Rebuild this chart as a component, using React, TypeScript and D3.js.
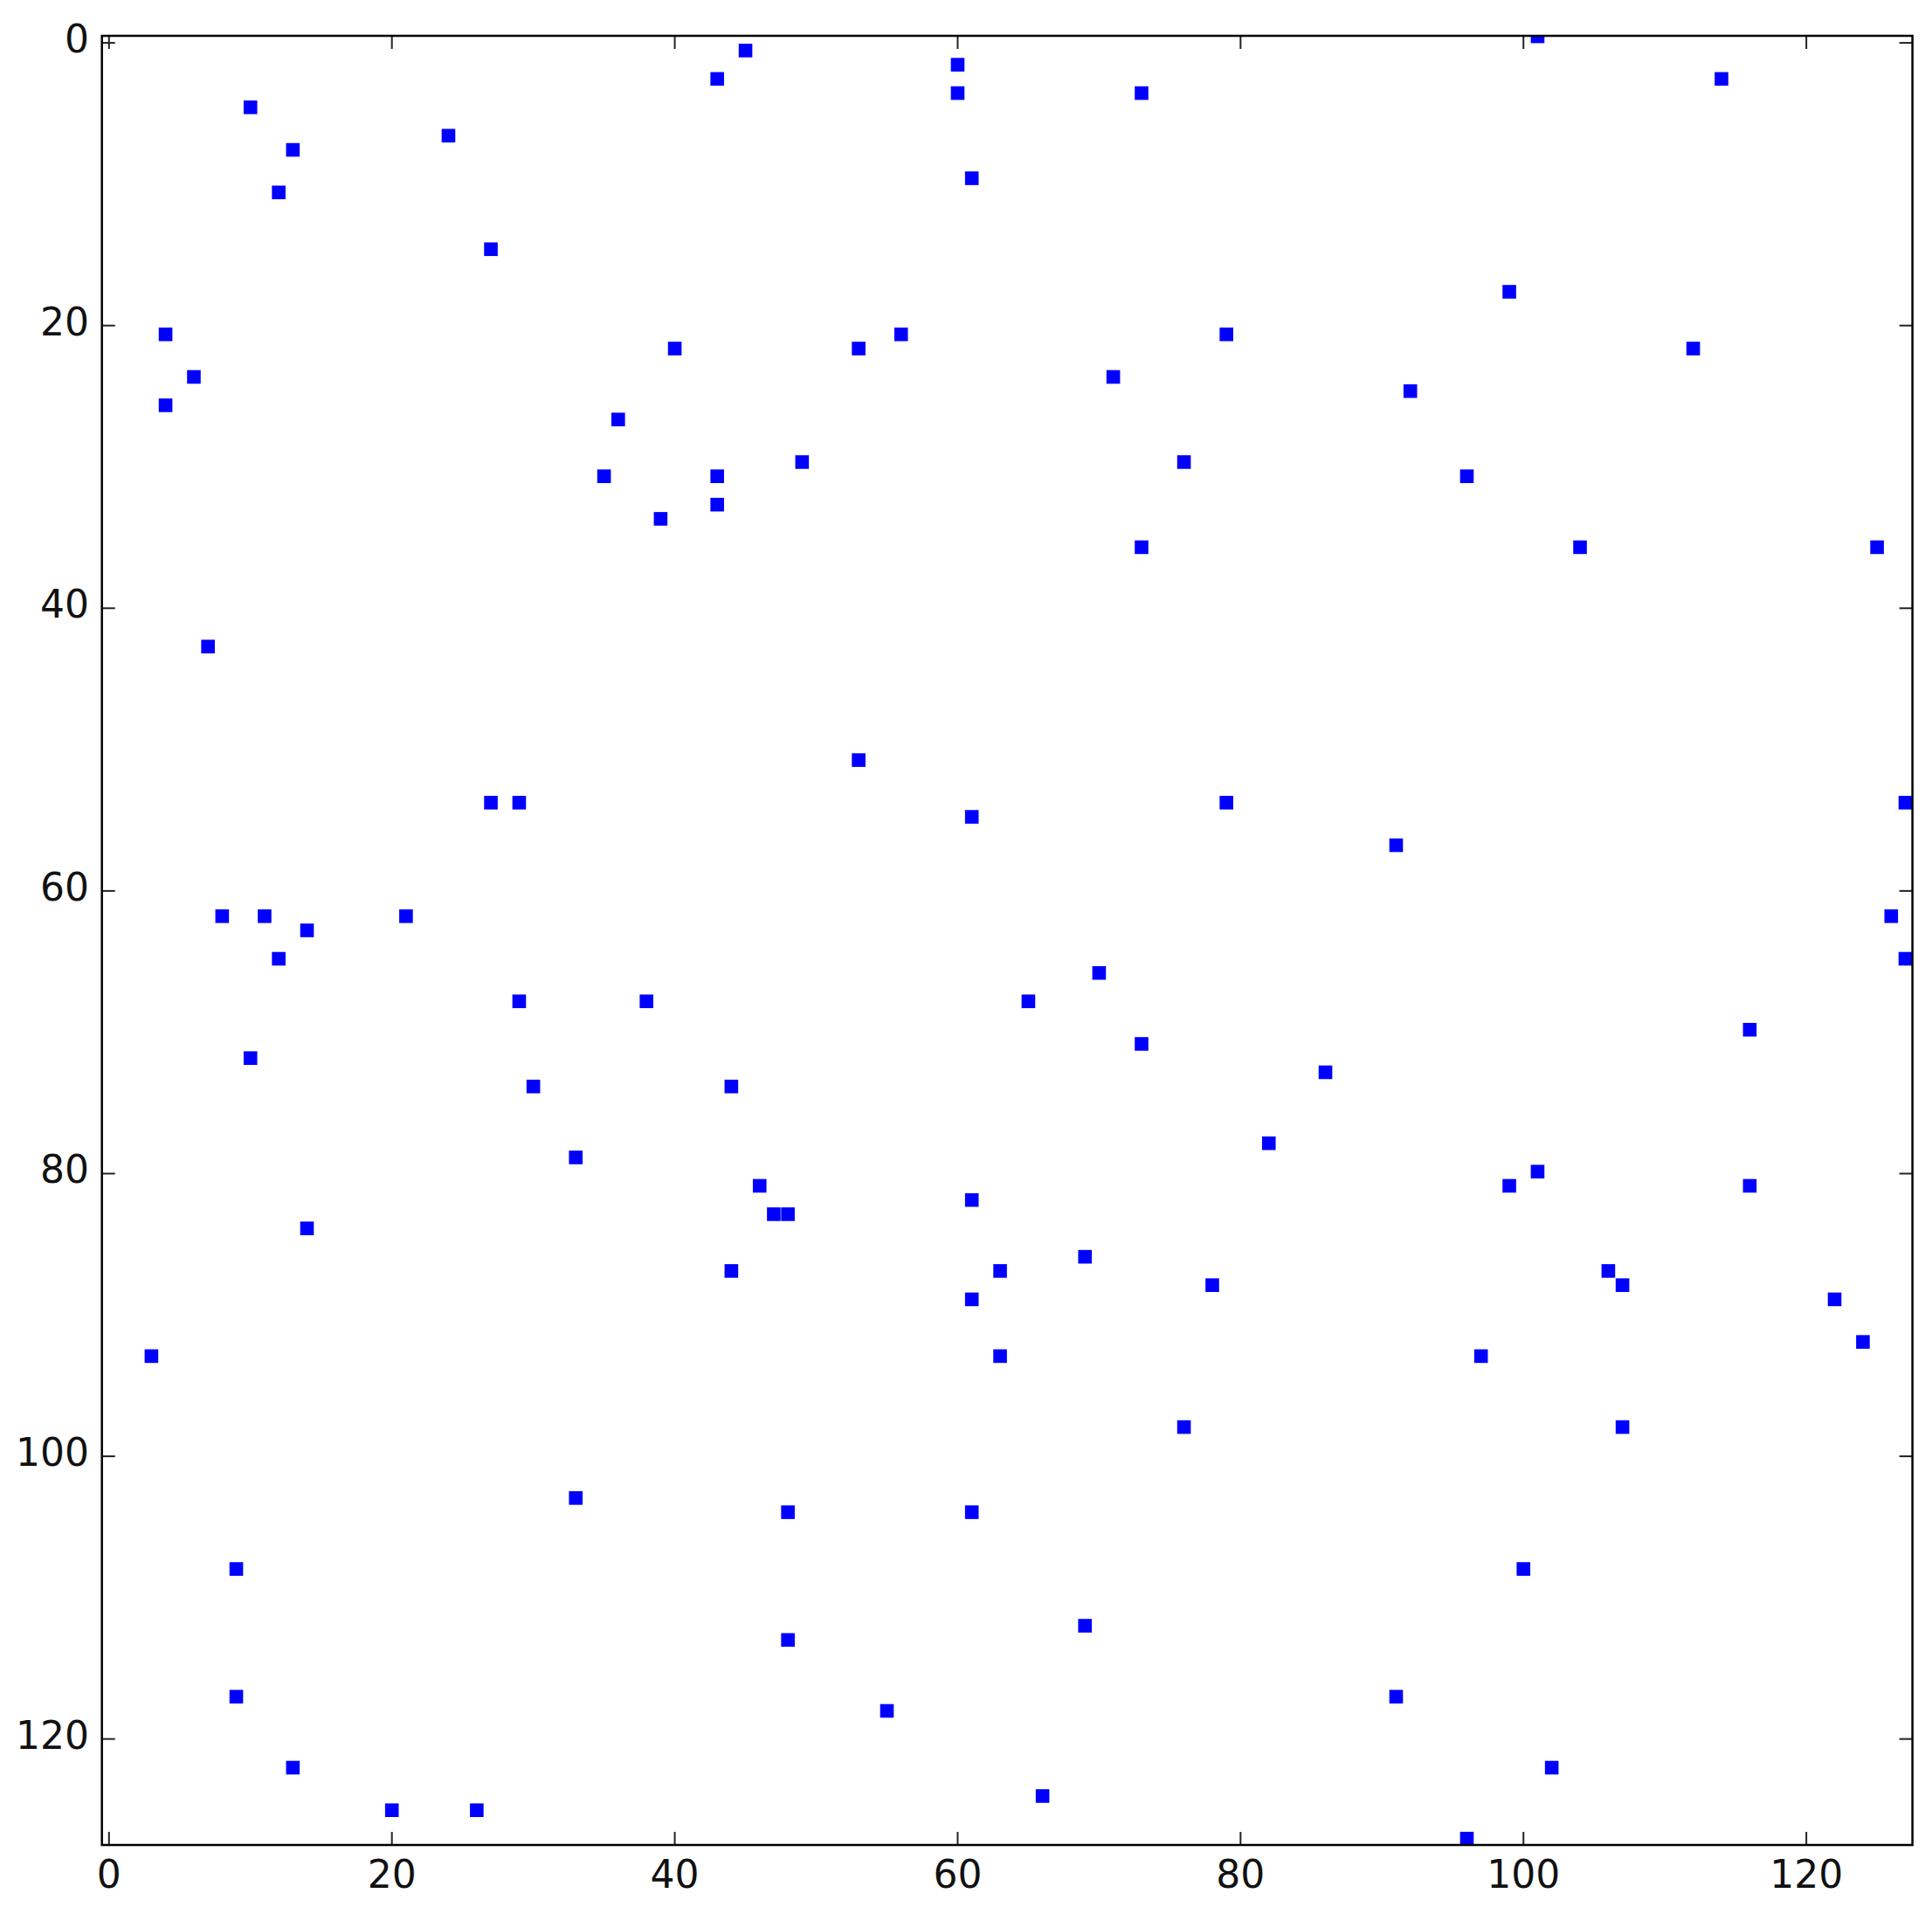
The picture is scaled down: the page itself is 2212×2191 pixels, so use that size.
import React from "react";
import * as d3 from "d3";

// nonzero entries of the 128x128 matrix (row, column)
const nzRows = [
  0, 1, 2, 3, 3, 4, 4, 5, 7, 8, 10, 11, 15, 18, 21, 21, 21, 22, 22, 22,
  24, 24, 25, 26, 27, 30, 30, 31, 31, 31, 33, 34, 36, 36, 36, 43, 51, 54, 54, 54,
  54, 55, 57, 62, 62, 62, 62, 63, 65, 65, 66, 68, 68, 68, 70, 71, 72, 73, 74, 74,
  78, 79, 80, 81, 81, 81, 82, 83, 83, 84, 86, 87, 87, 87, 88, 88, 89, 89, 92, 93,
  93, 93, 98, 98, 103, 104, 104, 108, 108, 112, 113, 117, 117, 118, 122, 122, 124, 125, 125, 127,
];
const nzCols = [
  101, 45, 60, 43, 114, 60, 73, 10, 24, 13, 61, 12, 27, 99, 4, 56, 79, 40, 53, 112,
  6, 71, 92, 4, 36, 49, 76, 35, 43, 96, 43, 39, 73, 104, 125, 7, 53, 27, 29, 79,
  127, 61, 91, 8, 11, 21, 126, 14, 12, 127, 70, 29, 38, 65, 116, 73, 10, 86, 30, 44,
  82, 33, 101, 46, 99, 116, 61, 47, 48, 14, 69, 44, 63, 106, 78, 107, 61, 122, 124, 3,
  63, 97, 76, 107, 33, 48, 61, 9, 100, 69, 48, 9, 91, 55, 13, 102, 66, 20, 26, 96,
];
const matrixSize = 128;
const xTicks = [0, 20, 40, 60, 80, 100, 120];
const yTicks = [0, 20, 40, 60, 80, 100, 120];

const W = 2212;
const H = 2191;
const left = 116.7;
const right = 2189.6;
const top = 41;
const bottom = 2112;
const markerSize = 15.6;
const tickLen = 15;
const fontSize = 44;

export default function App() {
  const x = d3.scaleLinear().domain([-0.5, matrixSize - 0.5]).range([left, right]);
  const y = d3.scaleLinear().domain([-0.5, matrixSize - 0.5]).range([top, bottom]);
  // markers in the reference sit slightly stretched vs. the tick grid
  const yMark = d3.scaleLinear().domain([0, matrixSize - 1]).range([41.6, 2104.7]);

  const points = d3.zip(nzRows, nzCols);

  return (
    <svg
      width={W}
      height={H}
      style={{ position: "absolute", left: 0, top: 0, display: "block", background: "#fff" }}
      fontFamily="DejaVu Sans, sans-serif"
    >
      <defs>
        <clipPath id="plot">
          <rect x={left} y={top} width={right - left} height={bottom - top} />
        </clipPath>
      </defs>
      <rect x={0} y={0} width={W} height={H} fill="#fff" />

      <g clipPath="url(#plot)">
        {points.map(([r, c], i) => (
          <rect
            key={i}
            x={x(c) - markerSize / 2}
            y={yMark(r) - markerSize / 2}
            width={markerSize}
            height={markerSize}
            fill="#0000ff"
          />
        ))}
      </g>

      {/* inward ticks on all four sides */}
      <g stroke="#222" strokeWidth={2}>
        {xTicks.map((t) => (
          <g key={"xt" + t}>
            <line x1={x(t)} x2={x(t)} y1={bottom} y2={bottom - tickLen} />
            <line x1={x(t)} x2={x(t)} y1={top} y2={top + tickLen} />
          </g>
        ))}
        {yTicks.map((t) => (
          <g key={"yt" + t}>
            <line x1={left} x2={left + tickLen} y1={y(t)} y2={y(t)} />
            <line x1={right} x2={right - tickLen} y1={y(t)} y2={y(t)} />
          </g>
        ))}
      </g>

      <rect
        x={left}
        y={top}
        width={right - left}
        height={bottom - top}
        fill="none"
        stroke="#000"
        strokeWidth={2.5}
      />

      <g fontSize={fontSize} fill="#111">
        {xTicks.map((t) => (
          <text key={"xl" + t} x={x(t)} y={2161} textAnchor="middle">
            {t}
          </text>
        ))}
        {yTicks.map((t) => (
          <text key={"yl" + t} x={102} y={y(t) + 11} textAnchor="end">
            {t}
          </text>
        ))}
      </g>
    </svg>
  );
}
